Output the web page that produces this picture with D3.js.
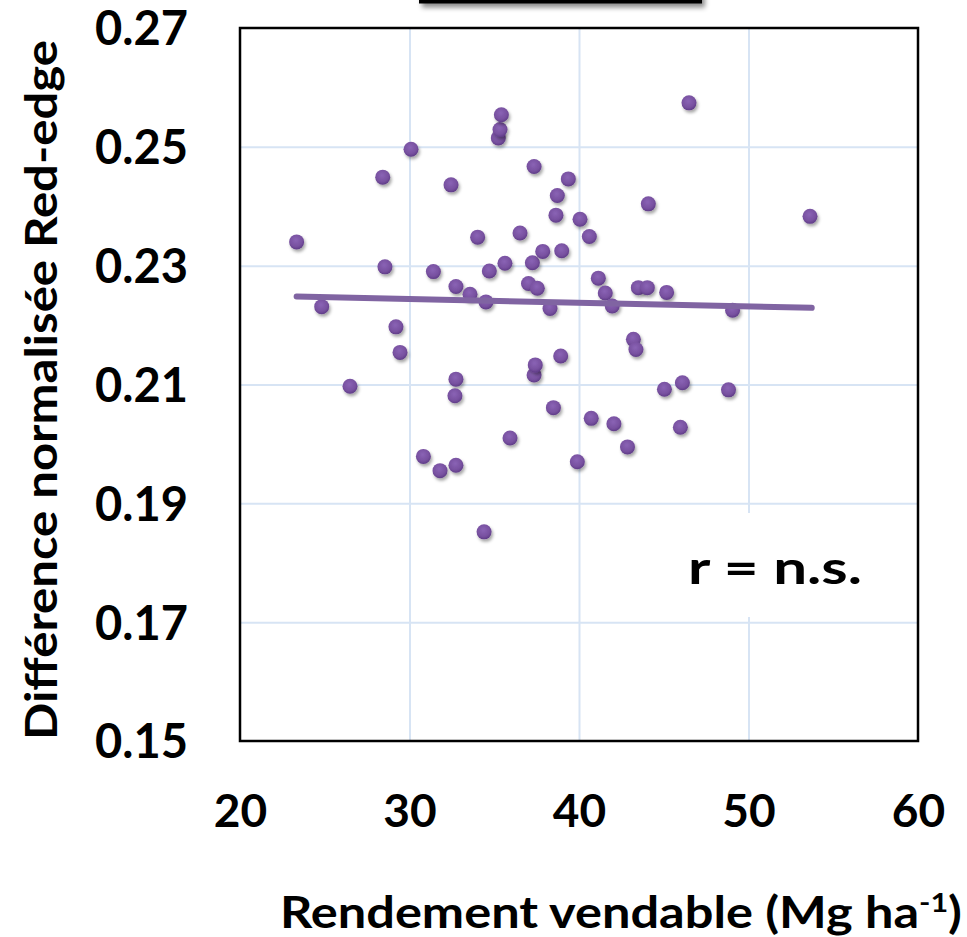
<!DOCTYPE html>
<html>
<head>
<meta charset="utf-8">
<script src="https://cdn.jsdelivr.net/npm/d3@7"></script>
<style>
  html, body { margin: 0; padding: 0; background: #fff; }
  svg { display: block; }
  text { font-family: Lato, "Open Sans", sans-serif; font-weight: 700; fill: #000; }
</style>
</head>
<body>
<svg id="chart" width="967" height="937"></svg>
<script>
// Rendement vendable (Mg/ha) vs différence normalisée Red-edge
const yieldValues = [
  23.34, 24.82, 26.49, 28.42, 28.55, 29.20, 29.44, 30.09, 30.82, 31.41,
  31.80, 32.45, 32.74, 32.74, 32.68, 32.74, 33.57, 34.02, 34.40, 34.51,
  34.71, 35.24, 35.34, 35.42, 35.63, 35.93, 36.52, 37.02, 37.25, 37.35,
  37.35, 37.42, 37.54, 37.86, 38.29, 38.49, 38.64, 38.72, 38.92, 38.98,
  39.37, 39.90, 40.06, 40.61, 40.72, 41.14, 41.55, 41.96, 42.06, 42.86,
  43.21, 43.36, 43.50, 44.03, 44.09, 45.04, 45.17, 45.98, 46.10, 46.49,
  48.82, 49.06, 53.63
];
const ndreValues = [
  0.2340, 0.2231, 0.2097, 0.2449, 0.2298, 0.2197, 0.2154, 0.2496, 0.1979, 0.2290,
  0.1955, 0.2436, 0.2265, 0.2109, 0.2081, 0.1964, 0.2252, 0.2348, 0.1852, 0.2239,
  0.2291, 0.2515, 0.2529, 0.2554, 0.2304, 0.2010, 0.2355, 0.2270, 0.2305, 0.2467,
  0.2116, 0.2133, 0.2262, 0.2324, 0.2228, 0.2061, 0.2385, 0.2418, 0.2148, 0.2325,
  0.2446, 0.1970, 0.2378, 0.2349, 0.2043, 0.2279, 0.2254, 0.2232, 0.2034, 0.1995,
  0.2176, 0.2159, 0.2263, 0.2263, 0.2404, 0.2092, 0.2255, 0.2028, 0.2103, 0.2574,
  0.2091, 0.2225, 0.2383
];

// Linear trend line (end points)
const trendX = [23.34, 53.73];
const trendY = [0.2248, 0.2229];

// Axis ticks
const xTicks = [20, 30, 40, 50, 60];
const yTicks = [0.15, 0.17, 0.19, 0.21, 0.23, 0.25, 0.27];

const xTitle = "Rendement vendable (Mg ha";
const xTitleSup = "-1";
const yTitle = "Différence normalisée Red-edge";
const annotation = "r = n.s.";

const svg = d3.select("#chart");
const plot = { left: 240, right: 918, top: 28, bottom: 741 };

const x = d3.scaleLinear().domain([20, 60]).range([plot.left, plot.right]);
const y = d3.scaleLinear().domain([0.15, 0.27]).range([plot.bottom, plot.top]);

const defs = svg.append("defs");
const grad = defs.append("radialGradient").attr("id", "dotFill")
  .attr("cx", "45%").attr("cy", "38%").attr("r", "62%");
grad.append("stop").attr("offset", "0%").attr("stop-color", "#8a63b5");
grad.append("stop").attr("offset", "70%").attr("stop-color", "#77509f");
grad.append("stop").attr("offset", "100%").attr("stop-color", "#5f3c87");

const dotShadow = defs.append("filter").attr("id", "dotShadow")
  .attr("x", "-50%").attr("y", "-50%").attr("width", "220%").attr("height", "220%");
dotShadow.append("feDropShadow").attr("dx", 1.5).attr("dy", 2.5)
  .attr("stdDeviation", 1.6).attr("flood-color", "#000").attr("flood-opacity", 0.35);

const boxShadow = defs.append("filter").attr("id", "boxShadow")
  .attr("x", "-10%").attr("y", "-50%").attr("width", "120%").attr("height", "250%");
boxShadow.append("feDropShadow").attr("dx", 3).attr("dy", 4)
  .attr("stdDeviation", 2.5).attr("flood-color", "#000").attr("flood-opacity", 0.45);

// Title box edge at the top of the page
svg.append("rect")
  .attr("x", 419).attr("y", -20).attr("width", 283).attr("height", 23.5)
  .attr("fill", "#000").attr("filter", "url(#boxShadow)");

// Gridlines
svg.append("g")
  .attr("transform", `translate(0,${plot.bottom})`)
  .call(d3.axisBottom(x).tickValues(xTicks.slice(1, -1))
    .tickSize(-(plot.bottom - plot.top)).tickFormat(""))
  .call(g => g.select(".domain").remove())
  .call(g => g.selectAll("line").attr("stroke", "#d7e4f4").attr("stroke-width", 2));

svg.append("g")
  .attr("transform", `translate(${plot.left},0)`)
  .call(d3.axisLeft(y).tickValues(yTicks.slice(1, -1))
    .tickSize(-(plot.right - plot.left)).tickFormat(""))
  .call(g => g.select(".domain").remove())
  .call(g => g.selectAll("line").attr("stroke", "#d7e4f4").attr("stroke-width", 2));

// Annotation background
svg.append("rect")
  .attr("x", 668).attr("y", 513).attr("width", 215).attr("height", 104)
  .attr("fill", "#fff");

// Plot frame
svg.append("rect")
  .attr("x", plot.left).attr("y", plot.top)
  .attr("width", plot.right - plot.left).attr("height", plot.bottom - plot.top)
  .attr("fill", "none").attr("stroke", "#000").attr("stroke-width", 2.5);

// Points
const points = yieldValues.map((v, i) => ({ x: v, y: ndreValues[i] }));
svg.append("g").selectAll("circle")
  .data(points).join("circle")
  .attr("cx", d => x(d.x)).attr("cy", d => y(d.y)).attr("r", 7.5)
  .attr("fill", "url(#dotFill)")
  .attr("filter", "url(#dotShadow)");

// Trend line
svg.append("path")
  .datum(trendX.map((v, i) => [v, trendY[i]]))
  .attr("d", d3.line().x(d => x(d[0])).y(d => y(d[1])))
  .attr("fill", "none").attr("stroke", "#8064a2")
  .attr("stroke-width", 6).attr("stroke-linecap", "round");

// Axis tick labels
const xAxis = svg.append("g")
  .attr("transform", `translate(0,${plot.bottom})`)
  .call(d3.axisBottom(x).tickValues(xTicks).tickSize(0).tickPadding(0)
    .tickFormat(d3.format("d")));
xAxis.select(".domain").remove();
xAxis.selectAll("text")
  .attr("y", 86).attr("dy", null)
  .style("font-family", "Lato, sans-serif").style("font-weight", 700)
  .style("font-size", "46px").attr("fill", "#000");

const yAxis = svg.append("g")
  .attr("transform", `translate(${plot.left},0)`)
  .call(d3.axisLeft(y).tickValues(yTicks).tickSize(0).tickPadding(0)
    .tickFormat(d3.format(".2f")));
yAxis.select(".domain").remove();
yAxis.selectAll("text")
  .attr("x", -52).attr("dy", "0.36em")
  .style("font-family", "Lato, sans-serif").style("font-weight", 700)
  .style("font-size", "47px").attr("fill", "#000");

// Axis titles
const xt = svg.append("text")
  .attr("x", 280).attr("y", 928)
  .attr("textLength", 682).attr("lengthAdjust", "spacingAndGlyphs")
  .style("font-size", "43px");
xt.append("tspan").text(xTitle);
xt.append("tspan").attr("dy", -16).style("font-size", "26px").text(xTitleSup);
xt.append("tspan").attr("dy", 16).text(")");

svg.append("text")
  .attr("transform", "translate(57,390) rotate(-90)")
  .attr("text-anchor", "middle")
  .attr("textLength", 700).attr("lengthAdjust", "spacingAndGlyphs")
  .style("font-size", "44px")
  .text(yTitle);

// Correlation note
svg.append("text")
  .attr("x", 688).attr("y", 584)
  .attr("textLength", 174).attr("lengthAdjust", "spacingAndGlyphs")
  .style("font-size", "46px")
  .text(annotation);
</script>
</body>
</html>
